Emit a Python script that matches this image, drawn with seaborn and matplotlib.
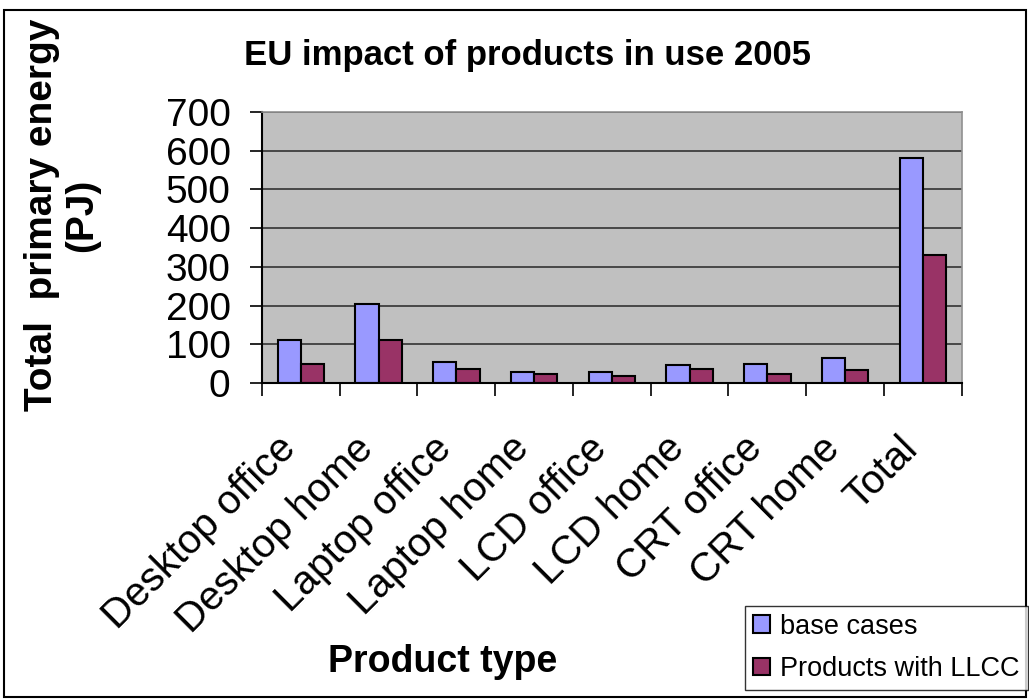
import numpy as np
import pandas as pd
import seaborn as sns
import matplotlib.pyplot as plt
from matplotlib.patches import Rectangle
from matplotlib.transforms import ScaledTranslation

products = ['Desktop office', 'Desktop home', 'Laptop office', 'Laptop home',
            'LCD office', 'LCD home', 'CRT office', 'CRT home', 'Total']
base_cases = [110, 205, 54, 28, 28, 46, 50, 65, 581]
with_llcc = [50, 110, 37, 23, 19, 37, 23, 33, 330]
series_names = ['base cases', 'Products with LLCC']

df = pd.DataFrame({
    'product': products * 2,
    'series': [series_names[0]] * len(products) + [series_names[1]] * len(products),
    'value': base_cases + with_llcc,
})

sns.set_style('white')
plt.rcParams['font.family'] = ['Liberation Sans', 'DejaVu Sans']
plt.rcParams['text.color'] = 'black'
plt.rcParams['xtick.color'] = 'black'
plt.rcParams['ytick.color'] = 'black'

fig = plt.figure(figsize=(10.29, 7.0), dpi=100)
ax = fig.add_axes([0.2546, 0.453, 0.680, 0.387])

sns.barplot(data=df, x='product', y='value', hue='series',
            palette=['#9999FF', '#993366'], width=0.6, saturation=1,
            edgecolor='black', linewidth=1.5, ax=ax)

ax.set_facecolor('#C0C0C0')
ax.set_ylim(0, 700)
ax.set_xlim(-0.5, len(products) - 0.5)
ax.set_yticks(range(0, 701, 100))
ax.yaxis.grid(True, color='#333333', linewidth=1.2)
ax.set_axisbelow(True)
ax.tick_params(axis='y', labelsize=28, length=8.6, width=1.2, direction='out', left=True, pad=14)

ax.set_xticks(range(len(products)))
ax.set_xticklabels(products, rotation=45, ha='right', va='center',
                   rotation_mode='anchor', fontsize=29)
ax.tick_params(axis='x', which='major', length=0, pad=43)
ax.set_xticks(np.arange(-0.5, len(products), 1), minor=True)
ax.tick_params(axis='x', which='minor', length=9, width=1.2, direction='out', bottom=True)
# nudge the slanted labels a little to the left, like the original
shift = ScaledTranslation(-0.11, 0, fig.dpi_scale_trans)
for lbl in ax.get_xticklabels():
    lbl.set_transform(lbl.get_transform() + shift)

for side in ['top', 'right']:
    ax.spines[side].set_color('#909090')
    ax.spines[side].set_linewidth(1.2)
for side in ['left', 'bottom']:
    ax.spines[side].set_color('black')
    ax.spines[side].set_linewidth(1.5)

ax.set_xlabel('')
ax.set_ylabel('')
ax.legend_.remove()

fig.text(0.513, 0.921, 'EU impact of products in use 2005', ha='center', va='center',
         fontsize=25, fontweight='bold')
fig.text(0.06, 0.693, 'Total  primary energy\n(PJ)', ha='center', va='center',
         rotation=90, fontsize=28, fontweight='bold', linespacing=1.15)
fig.text(0.4305, 0.054, 'Product type', ha='center', va='center',
         fontsize=27, fontweight='bold')

handles, labels = ax.get_legend_handles_labels()
leg = fig.legend(handles, labels, loc='lower left', bbox_to_anchor=(0.724, 0.014),
                 fontsize=19.5, frameon=True, fancybox=False, edgecolor='black',
                 handlelength=0.63, handleheight=0.63, handletextpad=0.37,
                 borderpad=0.3, labelspacing=0.6, borderaxespad=0)
leg.get_frame().set_linewidth(1.0)

fig.patches.append(Rectangle((0.004, 0.004), 0.993, 0.982, transform=fig.transFigure,
                             fill=False, edgecolor='black', linewidth=1.5))

fig.savefig('out.png', dpi=100)
